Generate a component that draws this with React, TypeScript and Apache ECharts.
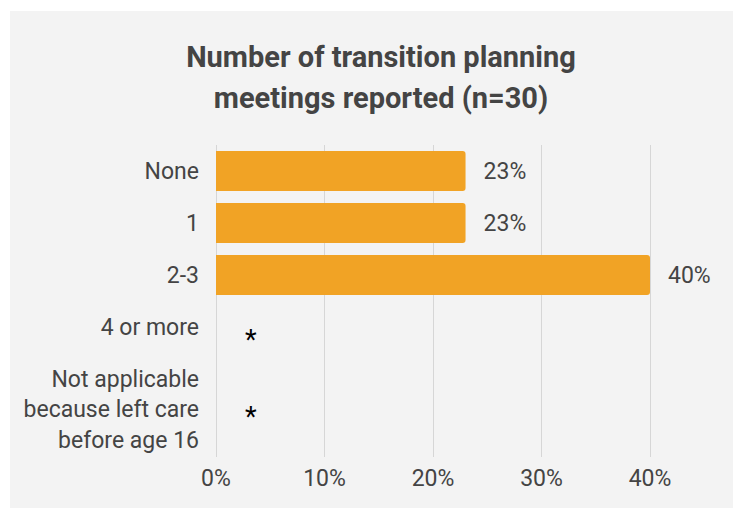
import React, { useEffect, useRef } from "react";
import * as echarts from "echarts";

const titleText = "Number of transition planning\nmeetings reported (n=30)";
const categories = [
  "None",
  "1",
  "2-3",
  "4 or more",
  "Not applicable\nbecause left care\nbefore age 16",
];
const values: (number | null)[] = [23, 23, 40, null, null];
const valueLabels = ["23%", "23%", "40%", "*", "*"];
const xMin = 0;
const xMax = 40;
const xInterval = 10;

export default function App() {
  const ref = useRef<HTMLDivElement>(null);

  useEffect(() => {
    document.body.style.margin = "0";
    if (!ref.current) return;
    const chart = echarts.init(ref.current, undefined, { renderer: "svg" });
    const font = "Roboto, 'Noto Sans', sans-serif";

    const seriesData = values.map((v, i) => {
      if (v === null) {
        return {
          value: 0,
          label: {
            show: true,
            formatter: valueLabels[i],
            color: "#000000",
            fontSize: 27,
            distance: 29,
            offset: [0, i === 4 ? 38 : 13],
          },
        };
      }
      return { value: v, label: { show: true, formatter: valueLabels[i] } };
    });

    chart.setOption({
      animation: false,
      textStyle: { fontFamily: font },
      graphic: [
        {
          type: "text",
          x: 381,
          y: 36,
          style: {
            text: titleText,
            align: "center",
            verticalAlign: "top",
            fill: "#444444",
            font: `bold 29px ${font}`,
            lineHeight: 41,
          },
        },
      ],
      grid: { left: 216, right: 83, top: 145, height: 312, containLabel: false },
      xAxis: {
        type: "value",
        min: xMin,
        max: xMax,
        interval: xInterval,
        axisLine: { show: false },
        axisTick: { show: false },
        axisLabel: {
          formatter: "{value}%",
          color: "#444444",
          fontSize: 23,
          margin: 10,
          fontFamily: font,
        },
        splitLine: { show: true, lineStyle: { color: "#d6d6d6", width: 1 } },
      },
      yAxis: {
        type: "category",
        inverse: true,
        data: [...categories, ""],
        axisLine: { show: false },
        axisTick: { show: false },
        splitLine: { show: false },
        axisLabel: {
          color: "#444444",
          fontSize: 23,
          lineHeight: 30.5,
          margin: 17,
          fontFamily: font,
          formatter: (v: string, i: number) => (i === 4 ? "\n\n" + v : v),
        },
      },
      series: [
        {
          type: "bar",
          data: seriesData,
          barWidth: 40,
          itemStyle: { color: "#F1A325", borderRadius: [0, 3, 3, 0] },
          label: {
            show: true,
            position: "right",
            distance: 18,
            color: "#444444",
            fontSize: 23,
            fontFamily: font,
          },
        },
      ],
    });
    return () => chart.dispose();
  }, []);

  return (
    <div style={{ position: "relative", width: 733, height: 508, background: "#ffffff" }}>
      <div
        style={{
          position: "absolute",
          left: 10,
          top: 11,
          width: 723,
          height: 497,
          background: "#f3f3f3",
        }}
      />
      <div ref={ref} style={{ position: "absolute", left: 0, top: 0, width: 733, height: 508 }} />
    </div>
  );
}
